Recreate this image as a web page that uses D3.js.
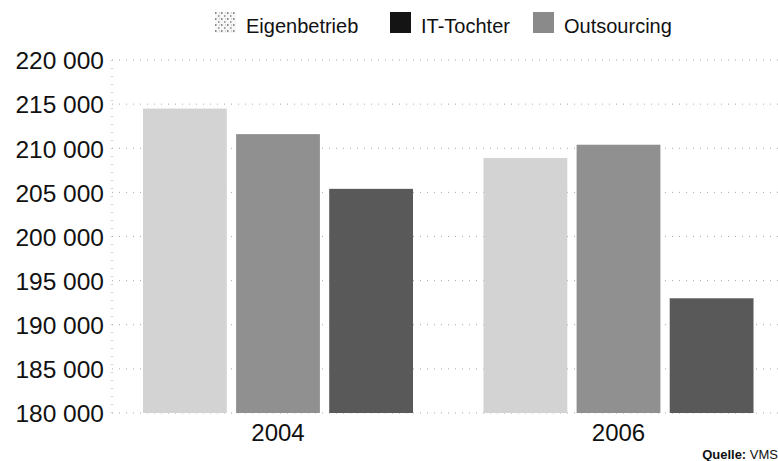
<!DOCTYPE html>
<html>
<head>
<meta charset="utf-8">
<script src="https://cdn.jsdelivr.net/npm/d3@7"></script>
<style>
  html, body { margin: 0; padding: 0; background: #fff; }
  svg { display: block; }
  text { font-family: "Liberation Sans", Arial, sans-serif; fill: #111; }
</style>
</head>
<body>
<svg id="chart" width="778" height="461"></svg>
<script>
// ---- data ----
const years = ["2004", "2006"];
const barSeries = ["Eigenbetrieb", "Outsourcing", "IT-Tochter"];
const eigenbetrieb = [214500, 208900];
const outsourcing = [211600, 210400];
const itTochter = [205400, 193000];
const yTicks = [180000, 185000, 190000, 195000, 200000, 205000, 210000, 215000, 220000];
const legendItems = ["Eigenbetrieb", "IT-Tochter", "Outsourcing"];
const barColors = { "Eigenbetrieb": "#d3d3d3", "Outsourcing": "#909090", "IT-Tochter": "#595959" };
const legendColors = { "Eigenbetrieb": "url(#speckle)", "IT-Tochter": "#141414", "Outsourcing": "#8a8a8a" };
const sourceLabel = ["Quelle:", " VMS"];

const values = { "Eigenbetrieb": eigenbetrieb, "Outsourcing": outsourcing, "IT-Tochter": itTochter };
const rows = years.map((yr, i) => ({ year: yr, vals: barSeries.map(s => ({ key: s, value: values[s][i] })) }));

const svg = d3.select("#chart");

// speckle pattern for legend swatch
const defs = svg.append("defs");
const pat = defs.append("pattern").attr("id", "speckle").attr("patternUnits", "userSpaceOnUse")
  .attr("width", 6).attr("height", 6);
pat.append("rect").attr("width", 6).attr("height", 6).attr("fill", "#f7f7f7");
pat.append("rect").attr("x", 0).attr("y", 0).attr("width", 1.5).attr("height", 2).attr("fill", "#8a8a8a");
pat.append("rect").attr("x", 3).attr("y", 3).attr("width", 1.5).attr("height", 2).attr("fill", "#a0a0a0");
pat.append("rect").attr("x", 4).attr("y", 0.5).attr("width", 1).attr("height", 1).attr("fill", "#b5b5b5");

// ---- scales ----
const y = d3.scaleLinear().domain([180000, 220000]).range([413, 60]);
const x0 = d3.scaleBand().domain(years).range([112, 784.5]).paddingInner(0.207).paddingOuter(0.091);
const x1 = d3.scaleBand().domain(barSeries).range([0, x0.bandwidth()]).paddingInner(0.1).paddingOuter(0);

// ---- gridlines ----
svg.append("g").selectAll("line").data(yTicks).join("line")
  .attr("x1", 112).attr("x2", 778)
  .attr("y1", d => y(d)).attr("y2", d => y(d))
  .attr("stroke", "#a8a8a8").attr("stroke-width", 1)
  .attr("stroke-dasharray", "1,6");

// vertical dotted axis line
svg.append("line").attr("x1", 112).attr("x2", 112).attr("y1", y(220000)).attr("y2", y(180000))
  .attr("stroke", "#a8a8a8").attr("stroke-dasharray", "1,7");

// ---- y axis labels ----
const yAxis = d3.axisLeft(y).tickValues(yTicks).tickSize(0).tickPadding(0)
  .tickFormat(d => d3.format(",")(d).replace(/,/g, " "));
const gy = svg.append("g").attr("transform", "translate(104,0)").call(yAxis);
gy.select(".domain").remove();
gy.selectAll("text").attr("font-size", 24.5).attr("font-family", "Liberation Sans, Arial, sans-serif")
  .attr("fill", "#111").attr("dy", "0.36em");

// ---- bars ----
const groups = svg.append("g").selectAll("g").data(rows).join("g")
  .attr("transform", d => `translate(${x0(d.year)},0)`);
groups.selectAll("rect").data(d => d.vals).join("rect")
  .attr("x", d => x1(d.key))
  .attr("width", x1.bandwidth())
  .attr("y", d => y(d.value))
  .attr("height", d => y(180000) - y(d.value))
  .attr("fill", d => barColors[d.key]);

// ---- x axis labels ----
const xAxis = d3.axisBottom(x0).tickSize(0).tickPadding(0);
const gx = svg.append("g").attr("transform", "translate(0,441)").call(xAxis);
gx.select(".domain").remove();
gx.selectAll("text").attr("font-size", 24).attr("font-family", "Liberation Sans, Arial, sans-serif")
  .attr("fill", "#111").attr("dy", "0").attr("y", 0);

// ---- legend ----
const legendX = [215, 390, 533];
const lg = svg.append("g").selectAll("g").data(legendItems).join("g")
  .attr("transform", (d, i) => `translate(${legendX[i]},12)`);
lg.append("rect").attr("width", 21).attr("height", 21).attr("fill", d => legendColors[d]);
lg.append("text").attr("x", 31).attr("y", 21).attr("font-size", 20).text(d => d);

// ---- source ----
const src = svg.append("text").attr("x", 778).attr("y", 459).attr("text-anchor", "end").attr("font-size", 13);
src.append("tspan").attr("font-weight", "bold").attr("font-family", "Liberation Sans, Arial, sans-serif").text(sourceLabel[0]);
src.append("tspan").text(sourceLabel[1]);
</script>
</body>
</html>
